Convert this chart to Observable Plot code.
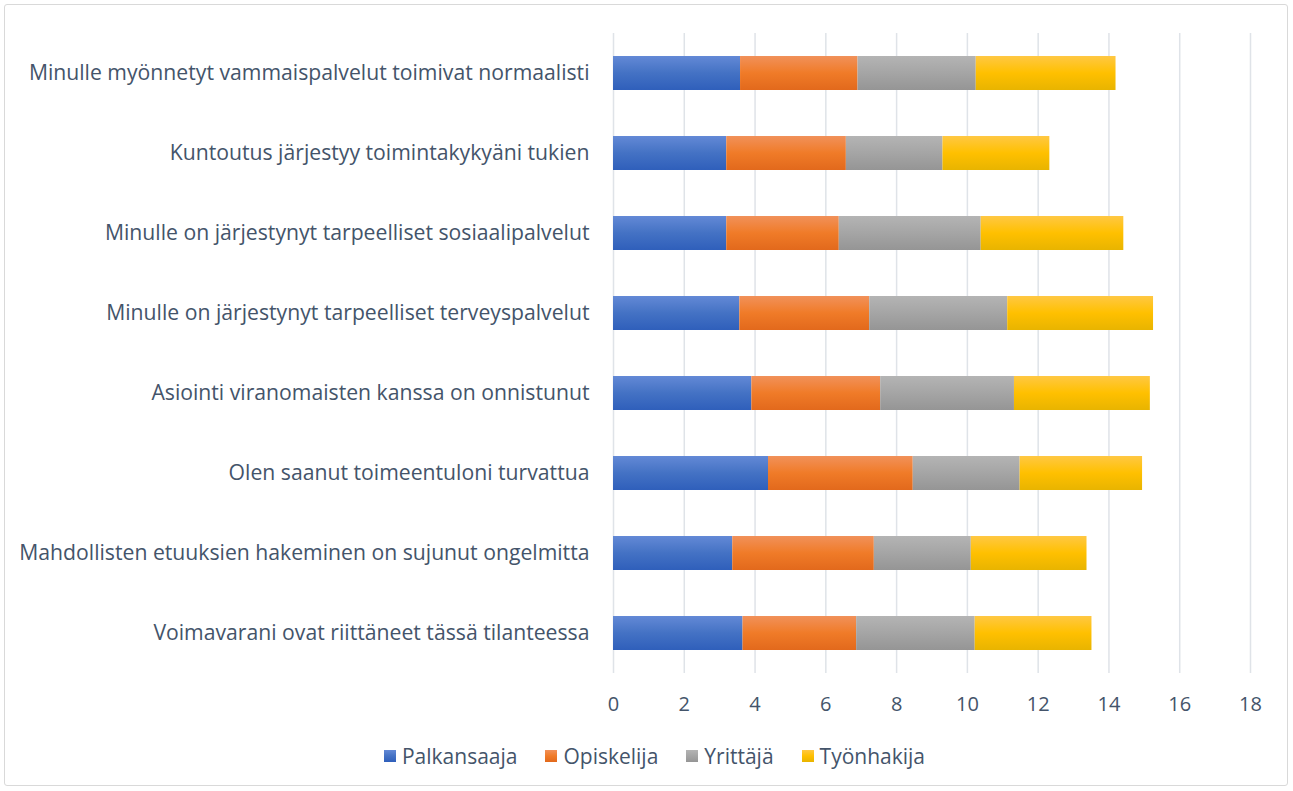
<!DOCTYPE html>
<html>
<head>
<meta charset="utf-8">
<script src="https://cdn.jsdelivr.net/npm/d3@7"></script>
<script src="https://cdn.jsdelivr.net/npm/@observablehq/plot@0.6"></script>
<style>
  html, body { margin: 0; padding: 0; background: #fff; }
  body { width: 1293px; height: 791px; position: relative; overflow: hidden; font-family: "Open Sans", Lato, sans-serif; }
  #frame { position: absolute; left: 4px; top: 4px; width: 1284px; height: 782px; border: 1px solid #d9d9d9; border-radius: 3px; box-sizing: border-box; }
  #chart { position: absolute; left: 0; top: 0; }
  #legend { position: absolute; left: 8px; top: 742px; width: 1293px; display: flex; justify-content: center; gap: 28px; font-size: 21px; color: #44546a; }
  .item { display: flex; align-items: center; }
  .sw { width: 12px; height: 12px; margin-right: 6px; display: inline-block; }
</style>
</head>
<body>
<div id="frame"></div>
<div id="chart"></div>
<div id="legend"></div>
<script>
const categories = [
  "Minulle myönnetyt vammaispalvelut toimivat normaalisti",
  "Kuntoutus järjestyy toimintakykyäni tukien",
  "Minulle on järjestynyt tarpeelliset sosiaalipalvelut",
  "Minulle on järjestynyt tarpeelliset terveyspalvelut",
  "Asiointi viranomaisten kanssa on onnistunut",
  "Olen saanut toimeentuloni turvattua",
  "Mahdollisten etuuksien hakeminen on sujunut ongelmitta",
  "Voimavarani ovat riittäneet tässä tilanteessa"
];
const seriesNames = ["Palkansaaja", "Opiskelija", "Yrittäjä", "Työnhakija"];
const palkansaaja = [3.59, 3.20, 3.20, 3.57, 3.91, 4.38, 3.37, 3.66];
const opiskelija  = [3.32, 3.38, 3.18, 3.67, 3.64, 4.09, 4.00, 3.21];
const yrittaja    = [3.34, 2.73, 4.01, 3.90, 3.78, 3.02, 2.74, 3.35];
const tyonhakija  = [3.95, 3.02, 4.03, 4.12, 3.84, 3.46, 3.27, 3.30];
const xTicks = [0, 2, 4, 6, 8, 10, 12, 14, 16, 18];
const gradStops = [
  ["#6389d6", "#4472c4", "#2f5fbb"],
  ["#f1915a", "#f07b28", "#e2691c"],
  ["#b4b4b4", "#a5a5a5", "#959595"],
  ["#ffc843", "#ffc000", "#e8b400"]
];

const seriesValues = [palkansaaja, opiskelija, yrittaja, tyonhakija];
const rows = [];
categories.forEach((c, i) => {
  seriesNames.forEach((s, j) => rows.push({category: c, series: s, value: seriesValues[j][i]}));
});

const textColor = "#44546a";
const plot = Plot.plot({
  width: 1293,
  height: 724,
  marginLeft: 613,
  marginRight: 43,
  marginTop: 33,
  marginBottom: 51,
  style: {fontFamily: "'Open Sans', Lato, sans-serif", fontSize: "20px", color: textColor, background: "transparent"},
  x: {domain: [0, 18], ticks: xTicks, label: null, tickSize: 0, tickPadding: 20},
  y: {domain: categories, label: null, tickSize: 0, tickPadding: 24, paddingInner: 0.575, paddingOuter: 0.2875},
  color: {domain: seriesNames, range: seriesNames.map((s, i) => `url(#grad${i})`)},
  marks: [
    Plot.ruleX(xTicks, {stroke: "#dfe3e8", strokeWidth: 1.5, strokeOpacity: 1}),
    Plot.barX(rows, {y: "category", x: "value", fill: "series", z: "series", order: seriesNames, inset: 0}),
    Plot.axisX({ticks: xTicks, tickSize: 0, tickPadding: 23, fill: textColor, fontSize: 20, label: null}),
    Plot.axisY({tickSize: 0, tickPadding: 24, fill: textColor, fontSize: 21.2, label: null})
  ]
});

const svgNS = "http://www.w3.org/2000/svg";
const defs = document.createElementNS(svgNS, "defs");
gradStops.forEach((stops, i) => {
  const g = document.createElementNS(svgNS, "linearGradient");
  g.setAttribute("id", `grad${i}`);
  g.setAttribute("x1", "0"); g.setAttribute("y1", "0");
  g.setAttribute("x2", "0"); g.setAttribute("y2", "1");
  [[0, stops[0]], [0.5, stops[1]], [1, stops[2]]].forEach(([o, c]) => {
    const st = document.createElementNS(svgNS, "stop");
    st.setAttribute("offset", o);
    st.setAttribute("stop-color", c);
    g.appendChild(st);
  });
  defs.appendChild(g);
});
plot.insertBefore(defs, plot.firstChild);
document.getElementById("chart").appendChild(plot);

const legend = document.getElementById("legend");
seriesNames.forEach((s, i) => {
  const item = document.createElement("div");
  item.className = "item";
  const sw = document.createElement("span");
  sw.className = "sw";
  sw.style.background = `linear-gradient(${gradStops[i][0]}, ${gradStops[i][1]}, ${gradStops[i][2]})`;
  item.appendChild(sw);
  item.appendChild(document.createTextNode(s));
  legend.appendChild(item);
});
</script>
</body>
</html>
